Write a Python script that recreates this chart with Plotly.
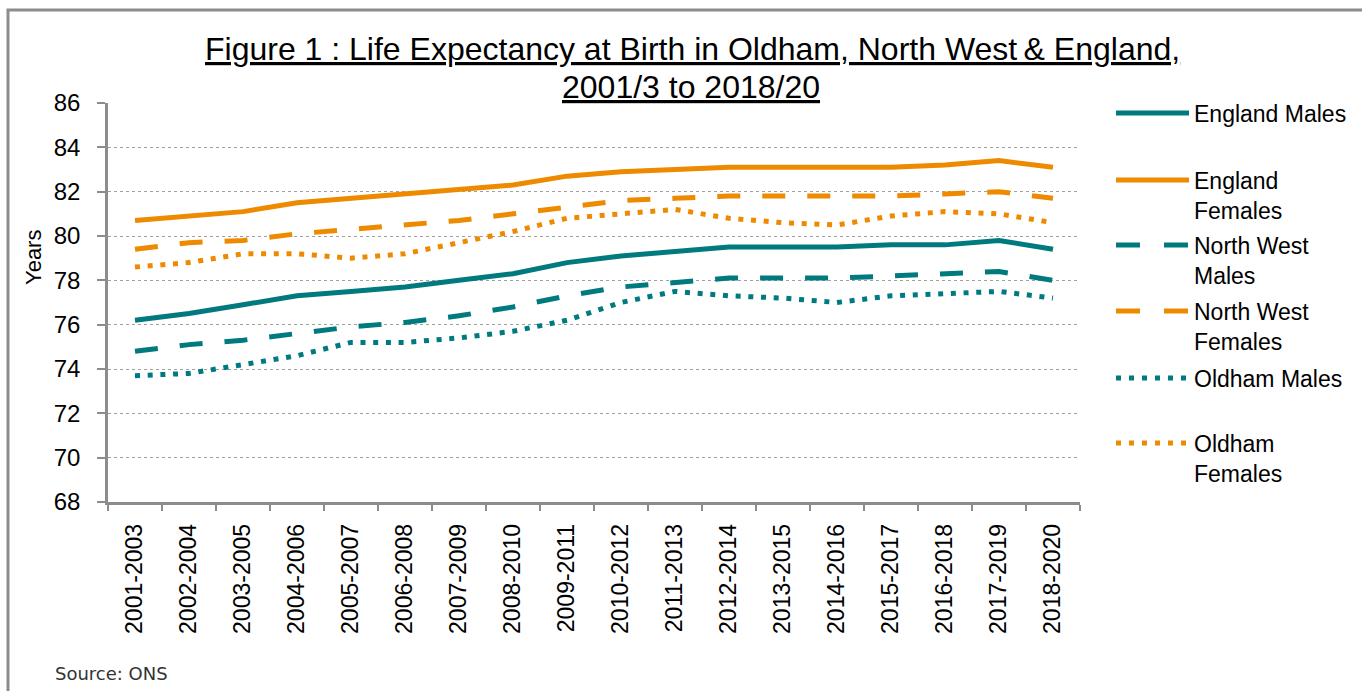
import plotly.graph_objects as go

periods = ["2001-2003", "2002-2004", "2003-2005", "2004-2006", "2005-2007", "2006-2008",
           "2007-2009", "2008-2010", "2009-2011", "2010-2012", "2011-2013", "2012-2014",
           "2013-2015", "2014-2016", "2015-2017", "2016-2018", "2017-2019", "2018-2020"]

england_males = [76.2, 76.5, 76.9, 77.3, 77.5, 77.7, 78.0, 78.3, 78.8, 79.1, 79.3, 79.5,
                 79.5, 79.5, 79.6, 79.6, 79.8, 79.4]
england_females = [80.7, 80.9, 81.1, 81.5, 81.7, 81.9, 82.1, 82.3, 82.7, 82.9, 83.0, 83.1,
                   83.1, 83.1, 83.1, 83.2, 83.4, 83.1]
nw_males = [74.8, 75.1, 75.3, 75.6, 75.9, 76.1, 76.4, 76.8, 77.3, 77.7, 77.9, 78.1,
            78.1, 78.1, 78.2, 78.3, 78.4, 78.0]
nw_females = [79.4, 79.7, 79.8, 80.1, 80.3, 80.5, 80.7, 81.0, 81.3, 81.6, 81.7, 81.8,
              81.8, 81.8, 81.8, 81.9, 82.0, 81.7]
oldham_males = [73.7, 73.8, 74.2, 74.6, 75.2, 75.2, 75.4, 75.7, 76.2, 77.0, 77.5, 77.3,
                77.2, 77.0, 77.3, 77.4, 77.5, 77.2]
oldham_females = [78.6, 78.8, 79.2, 79.2, 79.0, 79.2, 79.7, 80.2, 80.8, 81.0, 81.2, 80.8,
                  80.6, 80.5, 80.9, 81.1, 81.0, 80.6]

series_names = ["England Males", "England<br>Females", "North West<br>Males",
                "North West<br>Females", "Oldham Males", "Oldham<br>Females"]
series_values = [england_males, england_females, nw_males, nw_females, oldham_males, oldham_females]

TEAL = "#007A7F"
ORANGE = "#EE8A00"
series_colors = [TEAL, ORANGE, TEAL, ORANGE, TEAL, ORANGE]
series_dash = ["solid", "solid", "23px,22px", "23px,22px", "5px,7.7px", "5px,7.7px"]
legend_dash = ["solid", "solid", "24px,24px", "24px,24px", "5px,8px", "5px,8px"]

W, H = 1362, 691
L, R, T, B = 108, 1080, 103, 502
FONT = "Liberation Sans, Arial, sans-serif"


def px(x):
    return (x - L) / (R - L)


def py(y):
    return (B - y) / (B - T)


fig = go.Figure()
for name, vals, col, dash in zip(series_names, series_values, series_colors, series_dash):
    fig.add_trace(go.Scatter(x=periods, y=vals, mode="lines", name=name.replace("<br>", " "),
                             line=dict(color=col, width=5, dash=dash), showlegend=False))

annotations = []
shapes = []

# Title
annotations.append(dict(text="Figure 1 : Life Expectancy at Birth in Oldham, North West\u2009& England,",
                        x=px(692), y=py(49), xref="paper", yref="paper", showarrow=False,
                        xanchor="center", yanchor="middle",
                        font=dict(family=FONT, size=32, color="#000", lineposition="under")))
annotations.append(dict(text="2001/3 to 2018/20",
                        x=px(691), y=py(87), xref="paper", yref="paper", showarrow=False,
                        xanchor="center", yanchor="middle",
                        font=dict(family=FONT, size=32, color="#000", lineposition="under")))

# Y title
annotations.append(dict(text="Years", x=px(33), y=py(258), xref="paper", yref="paper",
                        showarrow=False, textangle=-90, xanchor="center", yanchor="middle",
                        font=dict(family=FONT, size=22, color="#000")))

# Source
annotations.append(dict(text="Source: ONS", x=px(53), y=py(673), xref="paper", yref="paper",
                        showarrow=False, xanchor="left", yanchor="middle",
                        font=dict(family="DejaVu Sans, Verdana, sans-serif", size=18, color="#333")))

# Manual legend
row_y = [113, 180, 245, 311, 378, 443]
for name, col, dash, yy in zip(series_names, series_colors, legend_dash, row_y):
    shapes.append(dict(type="line", xref="paper", yref="paper", x0=px(1116), x1=px(1189),
                       y0=py(yy), y1=py(yy), line=dict(color=col, width=5, dash=dash)))
    annotations.append(dict(text=name, x=px(1192), y=py(yy - 14), xref="paper", yref="paper",
                            showarrow=False, xanchor="left", yanchor="top", align="left",
                            font=dict(family=FONT, size=23, color="#000")))

# Outer border
shapes.append(dict(type="rect", xref="paper", yref="paper", x0=px(8), x1=px(1420),
                   y0=py(760), y1=py(10), line=dict(color="#8c8c8c", width=3),
                   fillcolor="rgba(0,0,0,0)", layer="above"))

fig.update_layout(
    width=W, height=H,
    margin=dict(l=L, r=W - R, t=T, b=H - B, pad=0),
    paper_bgcolor="white", plot_bgcolor="white",
    font=dict(family=FONT, color="#000"),
    showlegend=False,
    annotations=annotations, shapes=shapes,
    xaxis=dict(type="category", tickson="boundaries", ticks="outside", ticklen=6,
               tickwidth=2, tickcolor="#8c8c8c", showline=True, linecolor="#8c8c8c",
               linewidth=2.5, showgrid=False, tickangle=-90, ticklabelstandoff=10,
               tickfont=dict(family=FONT, size=23, color="#000"),
               range=[-0.5, 17.5]),
    yaxis=dict(range=[68, 86], dtick=2, tick0=68, ticks="outside", ticklen=8, tickwidth=2,
               tickcolor="#8c8c8c", showline=True, linecolor="#8c8c8c", linewidth=2.5,
               showgrid=True, gridcolor="#a0a0a0", gridwidth=1, griddash="dot",
               zeroline=False, ticklabelstandoff=12,
               tickfont=dict(family=FONT, size=24, color="#000")),
)

fig.write_html("out.html", config={"displayModeBar": False},
               post_script="document.body.style.margin='0';document.body.style.overflow='hidden';")
